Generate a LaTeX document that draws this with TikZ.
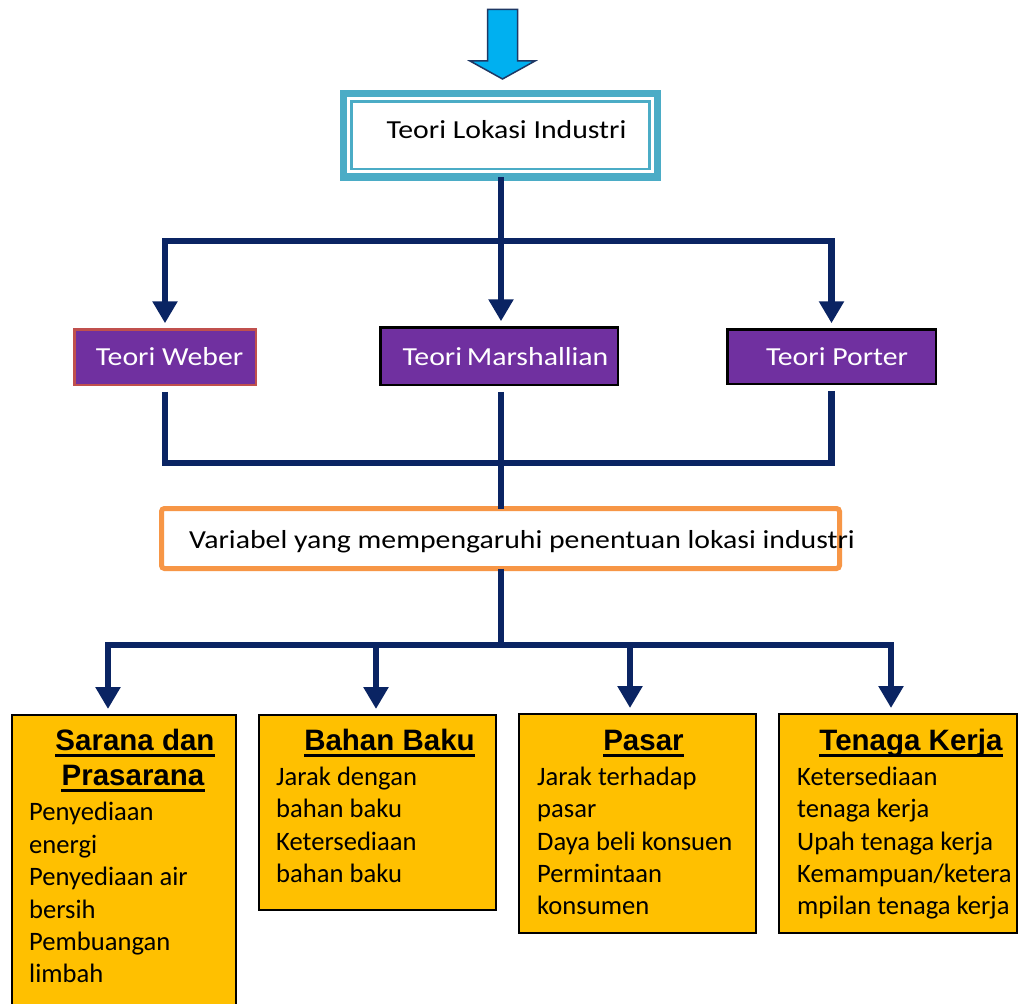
\documentclass[tikz,border=0pt]{standalone}
\usepackage{fontspec}
\setmainfont{Carlito}
\newfontfamily\widefont{Carlito}[FakeStretch=1.145]
\newfontfamily\hdfont{Liberation Sans}
\usetikzlibrary{arrows.meta}
\definecolor{navy}{HTML}{0A2463}
\definecolor{purp}{HTML}{7030A0}
\definecolor{gold}{HTML}{FFC000}
\definecolor{teal}{HTML}{4BACC6}
\definecolor{orng}{HTML}{F79646}
\definecolor{redb}{HTML}{C0504D}
\definecolor{cyanf}{HTML}{00B0F0}
\definecolor{darkb}{HTML}{1F3864}
\tikzset{
  nl/.style={draw=navy, line width=6.5pt, line join=miter},
  tip/.style={-{Triangle[width=24pt,length=22pt]}, shorten >=6pt},
  purplebox/.style={rectangle, fill=purp, draw=black, line width=2.5pt, inner sep=0pt, outer sep=0pt},
  goldbox/.style={rectangle, fill=gold, draw=black, line width=2pt, inner sep=0pt, outer sep=0pt},
  boxtxt/.style={font=\widefont\fontsize{26}{31}\selectfont, anchor=base, inner sep=0pt},
  ttl/.style={font=\hdfont\bfseries\fontsize{29.5}{35}\selectfont, anchor=base, inner sep=0pt},
  ul/.style={draw=black, line width=2.8pt},
  body/.style={font=\fontsize{26.6}{32.4}\selectfont, anchor=north west, align=left, inner sep=0pt},
}
\begin{document}
\begin{tikzpicture}[x=1pt,y=-1pt]
\useasboundingbox (0,0) rectangle (1024,1003);
\clip (0,0) rectangle (1024,1003);
\fill[white] (0,0) rectangle (1024,1003);

% top arrow
\draw[fill=cyanf, draw=darkb, line width=1.5pt, line join=miter]
  (487.5,9.5) -- (517.5,9.5) -- (517.5,61) -- (535,61) -- (502.5,79) -- (470,61) -- (487.5,61) -- cycle;

% top box
\node[rectangle, draw=teal, line width=7pt, fill=white, minimum width=314pt, minimum height=83.5pt, inner sep=0pt, outer sep=0pt] (top) at (500.5,135.25) {};
\draw[teal, line width=2.5pt] ([shift={(8,8)}]top.north west) rectangle ([shift={(-8,-8)}]top.south east);
\node[boxtxt] (topt) at (506.5,138.3) {Teori Lokasi Industri};

% theory boxes
\node[purplebox, draw=redb, minimum width=181.5pt, minimum height=55.5pt] (weber) at (165,357) {};
\node[boxtxt, text=white] (webert) at (169.5,365) {Teori Weber};
\node[purplebox, minimum width=237.5pt, minimum height=57.5pt] (marsh) at (499,356) {};
\node[boxtxt, text=white] (marsht) at (505.5,365) {Teori\hspace{-2pt} Marshallian};
\node[purplebox, minimum width=208.5pt, minimum height=54.5pt] (porter) at (831.5,356.5) {};
\node[boxtxt, text=white] (portert) at (837,365) {Teori Porter};

% variable box
\node[rectangle, draw=orng, line width=5pt, fill=white, rounded corners=3pt, minimum width=678pt, minimum height=60pt, inner sep=0pt, outer sep=0pt] (var) at (500.5,538.5) {};
\node[boxtxt] (vart) at (522,548.3) {Variabel yang mempengaruhi penentuan lokasi industri};

% connectors level 1
\coordinate (j1) at (501,241);
\draw[nl] (j1 |- top.south) -- (j1);
\draw[nl,tip] (j1) -| (weber.north);
\draw[nl,tip] (j1) -- (j1 |- marsh.north);
\draw[nl,tip] (j1) -| (porter.north);

% connectors level 2
\coordinate (j2) at (501,463);
\draw[nl, shorten <=7pt] (weber.south) |- (j2);
\draw[nl, shorten <=7pt] (porter.south) |- (j2);
\draw[nl, shorten <=7pt] (j2 |- marsh.south) -- (j2 |- var.north);

% bottom boxes
\node[goldbox, minimum width=224pt, minimum height=300pt] (sar) at (124,865) {};
\node[goldbox, minimum width=237pt, minimum height=195pt] (bah) at (377.5,812.5) {};
\node[goldbox, minimum width=237pt, minimum height=219pt] (pas) at (637.5,823.5) {};
\node[goldbox, minimum width=238pt, minimum height=219pt] (ten) at (898,823.5) {};

% connectors level 3
\coordinate (j3) at (501,645);
\coordinate (d1) at (108,645);
\coordinate (d2) at (376,645);
\coordinate (d3) at (630,645);
\coordinate (d4) at (891,645);
\draw[nl] (j3 |- var.south) -- (j3);
\draw[nl,tip] (j3) -| (d1 |- sar.north);
\draw[nl,tip] (j3) -| (d2 |- bah.north);
\draw[nl,tip] (j3) -| (d3 |- pas.north);
\draw[nl,tip] (j3) -| (d4 |- ten.north);

% titles
\node[ttl] (sart1) at (135,750) {Sarana dan};
\node[ttl] (sart2) at (133,785) {Prasarana};
\node[ttl] (baht) at (389.5,750) {Bahan Baku};
\node[ttl] (past) at (643.5,750) {Pasar};
\node[ttl] (tent) at (911,750) {Tenaga Kerja};
\foreach \n in {sart1,sart2,baht,past,tent}
  \draw[ul] ([shift={(0,5.5)}]\n.base west) -- ([shift={(0,5.5)}]\n.base east);

% bodies
\node[body] (sarb) at (29,800.7) {\rule{0pt}{20pt}Penyediaan\\energi\\Penyediaan air\\bersih\\Pembuangan\\limbah};
\node[body] (bahb) at (276,765) {\rule{0pt}{20pt}Jarak dengan\\bahan baku\\Ketersediaan\\bahan baku};
\node[body] (pasb) at (537,765) {\rule{0pt}{20pt}Jarak terhadap\\pasar\\Daya beli konsuen\\Permintaan\\konsumen};
\node[body] (tenb) at (797,765) {\rule{0pt}{20pt}Ketersediaan\\tenaga kerja\\Upah tenaga kerja\\Kemampuan/ketera\\mpilan tenaga kerja};
\end{tikzpicture}
\end{document}
